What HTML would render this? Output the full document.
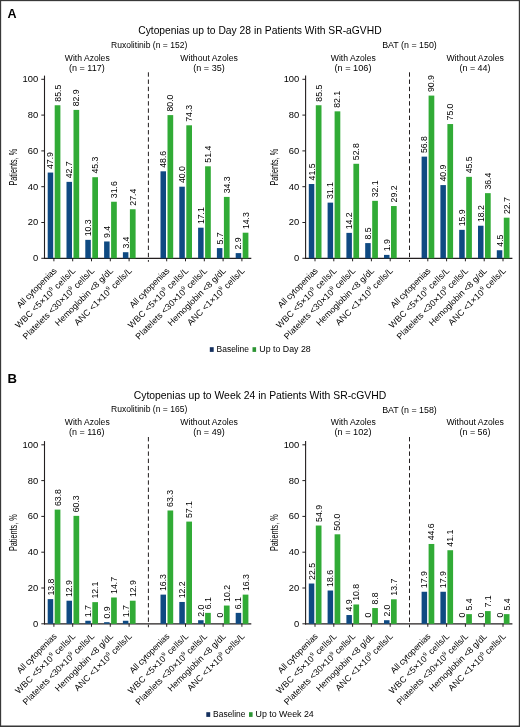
<!DOCTYPE html><html><head><meta charset="utf-8"><style>html,body{margin:0;padding:0;background:#fff;overflow:hidden;} body{position:relative;width:520px;height:727px;}svg{display:block;will-change:transform;filter:blur(0.3px);} #bd{filter:none;position:absolute;left:0;top:0;width:520px;height:727px;pointer-events:none;} text{font-family:"Liberation Sans", sans-serif;}</style></head><body>
<svg width="520" height="727" viewBox="0 0 520 727">
<rect x="0" y="0" width="520" height="727" fill="#fff"/>
<text x="7.60" y="18.30" font-size="12.5" font-weight="bold">A</text>
<text x="138.20" y="34.15" font-size="10.5" textLength="243.40" lengthAdjust="spacingAndGlyphs">Cytopenias up to Day 28 in Patients With SR-aGVHD</text>
<text x="111.00" y="47.70" font-size="8.5" textLength="76.30" lengthAdjust="spacingAndGlyphs">Ruxolitinib (n = 152)</text>
<text x="382.20" y="48.20" font-size="8.5" textLength="54.60" lengthAdjust="spacingAndGlyphs">BAT (n = 150)</text>
<text x="64.80" y="60.70" font-size="8.5" textLength="44.90" lengthAdjust="spacingAndGlyphs">With Azoles</text>
<text x="69.00" y="70.60" font-size="8.5" textLength="35.70" lengthAdjust="spacingAndGlyphs">(n = 117)</text>
<text x="180.30" y="60.90" font-size="8.5" textLength="57.60" lengthAdjust="spacingAndGlyphs">Without Azoles</text>
<text x="193.30" y="70.60" font-size="8.5" textLength="31.40" lengthAdjust="spacingAndGlyphs">(n = 35)</text>
<text x="330.80" y="60.70" font-size="8.5" textLength="45.00" lengthAdjust="spacingAndGlyphs">With Azoles</text>
<text x="334.50" y="70.60" font-size="8.5" textLength="37.00" lengthAdjust="spacingAndGlyphs">(n = 106)</text>
<text x="446.40" y="60.90" font-size="8.5" textLength="57.60" lengthAdjust="spacingAndGlyphs">Without Azoles</text>
<text x="459.50" y="70.60" font-size="8.5" textLength="31.00" lengthAdjust="spacingAndGlyphs">(n = 44)</text>
<line x1="44.5" y1="75.60" x2="44.5" y2="258.90" stroke="#231f20" stroke-width="1.1"/>
<line x1="41.30" y1="258.30" x2="44.5" y2="258.30" stroke="#231f20" stroke-width="1"/>
<text x="38.20" y="261.20" font-size="9.4" text-anchor="end">0</text>
<line x1="41.30" y1="222.50" x2="44.5" y2="222.50" stroke="#231f20" stroke-width="1"/>
<text x="38.20" y="225.40" font-size="9.4" text-anchor="end">20</text>
<line x1="41.30" y1="186.70" x2="44.5" y2="186.70" stroke="#231f20" stroke-width="1"/>
<text x="38.20" y="189.60" font-size="9.4" text-anchor="end">40</text>
<line x1="41.30" y1="150.90" x2="44.5" y2="150.90" stroke="#231f20" stroke-width="1"/>
<text x="38.20" y="153.80" font-size="9.4" text-anchor="end">60</text>
<line x1="41.30" y1="115.10" x2="44.5" y2="115.10" stroke="#231f20" stroke-width="1"/>
<text x="38.20" y="118.00" font-size="9.4" text-anchor="end">80</text>
<line x1="41.30" y1="79.30" x2="44.5" y2="79.30" stroke="#231f20" stroke-width="1"/>
<text x="38.20" y="82.20" font-size="9.4" text-anchor="end">100</text>
<line x1="44.00" y1="258.30" x2="251.30" y2="258.30" stroke="#231f20" stroke-width="1.15"/>
<text x="16.90" y="167.20" font-size="10" text-anchor="middle" textLength="36.60" lengthAdjust="spacingAndGlyphs" transform="rotate(-90 16.90 167.20)">Patients, %</text>
<line x1="148.40" y1="72.30" x2="148.40" y2="261.80" stroke="#231f20" stroke-width="1" stroke-dasharray="4.4 2.82"/>
<line x1="53.90" y1="258.30" x2="53.90" y2="261.30" stroke="#231f20" stroke-width="1"/>
<rect x="47.70" y="172.56" width="5.5" height="85.74" fill="#0f4a82"/>
<text x="53.50" y="168.96" font-size="8.7" transform="rotate(-90 53.50 168.96)">47.9</text>
<rect x="54.70" y="105.25" width="5.7" height="153.05" fill="#31ab36"/>
<text x="60.60" y="101.66" font-size="8.7" transform="rotate(-90 60.60 101.66)">85.5</text>
<text x="57.30" y="271.30" font-size="8.8" text-anchor="end" textLength="52.5" lengthAdjust="spacing" transform="rotate(-45 57.30 271.30)">All cytopenias</text>
<line x1="72.70" y1="258.30" x2="72.70" y2="261.30" stroke="#231f20" stroke-width="1"/>
<rect x="66.50" y="181.87" width="5.5" height="76.43" fill="#0f4a82"/>
<text x="72.30" y="178.27" font-size="8.7" transform="rotate(-90 72.30 178.27)">42.7</text>
<rect x="73.50" y="109.91" width="5.7" height="148.39" fill="#31ab36"/>
<text x="79.40" y="106.31" font-size="8.7" transform="rotate(-90 79.40 106.31)">82.9</text>
<text x="76.10" y="271.30" font-size="8.8" text-anchor="end" textLength="81.2" lengthAdjust="spacing" transform="rotate(-45 76.10 271.30)">WBC &lt;5×10<tspan font-size="5.8" dy="-3.6">9</tspan><tspan dy="3.6"> cells/L</tspan></text>
<line x1="91.50" y1="258.30" x2="91.50" y2="261.30" stroke="#231f20" stroke-width="1"/>
<rect x="85.30" y="239.86" width="5.5" height="18.44" fill="#0f4a82"/>
<text x="91.10" y="236.26" font-size="8.7" transform="rotate(-90 91.10 236.26)">10.3</text>
<rect x="92.30" y="177.21" width="5.7" height="81.09" fill="#31ab36"/>
<text x="98.20" y="173.61" font-size="8.7" transform="rotate(-90 98.20 173.61)">45.3</text>
<text x="94.90" y="271.30" font-size="8.8" text-anchor="end" textLength="97.0" lengthAdjust="spacing" transform="rotate(-45 94.90 271.30)">Platelets &lt;30×10<tspan font-size="5.8" dy="-3.6">9</tspan><tspan dy="3.6"> cells/L</tspan></text>
<line x1="110.30" y1="258.30" x2="110.30" y2="261.30" stroke="#231f20" stroke-width="1"/>
<rect x="104.10" y="241.47" width="5.5" height="16.83" fill="#0f4a82"/>
<text x="109.90" y="237.87" font-size="8.7" transform="rotate(-90 109.90 237.87)">9.4</text>
<rect x="111.10" y="201.74" width="5.7" height="56.56" fill="#31ab36"/>
<text x="117.00" y="198.14" font-size="8.7" transform="rotate(-90 117.00 198.14)">31.6</text>
<text x="113.70" y="271.30" font-size="8.8" text-anchor="end" textLength="78.0" lengthAdjust="spacing" transform="rotate(-45 113.70 271.30)">Hemoglobin &lt;8 g/dL</text>
<line x1="129.10" y1="258.30" x2="129.10" y2="261.30" stroke="#231f20" stroke-width="1"/>
<rect x="122.90" y="252.21" width="5.5" height="6.09" fill="#0f4a82"/>
<text x="128.70" y="248.61" font-size="8.7" transform="rotate(-90 128.70 248.61)">3.4</text>
<rect x="129.90" y="209.25" width="5.7" height="49.05" fill="#31ab36"/>
<text x="135.80" y="205.65" font-size="8.7" transform="rotate(-90 135.80 205.65)">27.4</text>
<text x="132.50" y="271.30" font-size="8.8" text-anchor="end" textLength="77.3" lengthAdjust="spacing" transform="rotate(-45 132.50 271.30)">ANC &lt;1×10<tspan font-size="5.8" dy="-3.6">9</tspan><tspan dy="3.6"> cells/L</tspan></text>
<line x1="166.70" y1="258.30" x2="166.70" y2="261.30" stroke="#231f20" stroke-width="1"/>
<rect x="160.50" y="171.31" width="5.5" height="86.99" fill="#0f4a82"/>
<text x="166.30" y="167.71" font-size="8.7" transform="rotate(-90 166.30 167.71)">48.6</text>
<rect x="167.50" y="115.10" width="5.7" height="143.20" fill="#31ab36"/>
<text x="173.40" y="111.50" font-size="8.7" transform="rotate(-90 173.40 111.50)">80.0</text>
<text x="170.10" y="271.30" font-size="8.8" text-anchor="end" textLength="52.5" lengthAdjust="spacing" transform="rotate(-45 170.10 271.30)">All cytopenias</text>
<line x1="185.50" y1="258.30" x2="185.50" y2="261.30" stroke="#231f20" stroke-width="1"/>
<rect x="179.30" y="186.70" width="5.5" height="71.60" fill="#0f4a82"/>
<text x="185.10" y="183.10" font-size="8.7" transform="rotate(-90 185.10 183.10)">40.0</text>
<rect x="186.30" y="125.30" width="5.7" height="133.00" fill="#31ab36"/>
<text x="192.20" y="121.70" font-size="8.7" transform="rotate(-90 192.20 121.70)">74.3</text>
<text x="188.90" y="271.30" font-size="8.8" text-anchor="end" textLength="81.2" lengthAdjust="spacing" transform="rotate(-45 188.90 271.30)">WBC &lt;5×10<tspan font-size="5.8" dy="-3.6">9</tspan><tspan dy="3.6"> cells/L</tspan></text>
<line x1="204.30" y1="258.30" x2="204.30" y2="261.30" stroke="#231f20" stroke-width="1"/>
<rect x="198.10" y="227.69" width="5.5" height="30.61" fill="#0f4a82"/>
<text x="203.90" y="224.09" font-size="8.7" transform="rotate(-90 203.90 224.09)">17.1</text>
<rect x="205.10" y="166.29" width="5.7" height="92.01" fill="#31ab36"/>
<text x="211.00" y="162.69" font-size="8.7" transform="rotate(-90 211.00 162.69)">51.4</text>
<text x="207.70" y="271.30" font-size="8.8" text-anchor="end" textLength="97.0" lengthAdjust="spacing" transform="rotate(-45 207.70 271.30)">Platelets &lt;30×10<tspan font-size="5.8" dy="-3.6">9</tspan><tspan dy="3.6"> cells/L</tspan></text>
<line x1="223.10" y1="258.30" x2="223.10" y2="261.30" stroke="#231f20" stroke-width="1"/>
<rect x="216.90" y="248.10" width="5.5" height="10.20" fill="#0f4a82"/>
<text x="222.70" y="244.50" font-size="8.7" transform="rotate(-90 222.70 244.50)">5.7</text>
<rect x="223.90" y="196.90" width="5.7" height="61.40" fill="#31ab36"/>
<text x="229.80" y="193.30" font-size="8.7" transform="rotate(-90 229.80 193.30)">34.3</text>
<text x="226.50" y="271.30" font-size="8.8" text-anchor="end" textLength="78.0" lengthAdjust="spacing" transform="rotate(-45 226.50 271.30)">Hemoglobin &lt;8 g/dL</text>
<line x1="241.90" y1="258.30" x2="241.90" y2="261.30" stroke="#231f20" stroke-width="1"/>
<rect x="235.70" y="253.11" width="5.5" height="5.19" fill="#0f4a82"/>
<text x="241.50" y="249.51" font-size="8.7" transform="rotate(-90 241.50 249.51)">2.9</text>
<rect x="242.70" y="232.70" width="5.7" height="25.60" fill="#31ab36"/>
<text x="248.60" y="229.10" font-size="8.7" transform="rotate(-90 248.60 229.10)">14.3</text>
<text x="245.30" y="271.30" font-size="8.8" text-anchor="end" textLength="77.3" lengthAdjust="spacing" transform="rotate(-45 245.30 271.30)">ANC &lt;1×10<tspan font-size="5.8" dy="-3.6">9</tspan><tspan dy="3.6"> cells/L</tspan></text>
<line x1="305.6" y1="75.60" x2="305.6" y2="258.90" stroke="#231f20" stroke-width="1.1"/>
<line x1="302.40" y1="258.30" x2="305.6" y2="258.30" stroke="#231f20" stroke-width="1"/>
<text x="299.30" y="261.20" font-size="9.4" text-anchor="end">0</text>
<line x1="302.40" y1="222.50" x2="305.6" y2="222.50" stroke="#231f20" stroke-width="1"/>
<text x="299.30" y="225.40" font-size="9.4" text-anchor="end">20</text>
<line x1="302.40" y1="186.70" x2="305.6" y2="186.70" stroke="#231f20" stroke-width="1"/>
<text x="299.30" y="189.60" font-size="9.4" text-anchor="end">40</text>
<line x1="302.40" y1="150.90" x2="305.6" y2="150.90" stroke="#231f20" stroke-width="1"/>
<text x="299.30" y="153.80" font-size="9.4" text-anchor="end">60</text>
<line x1="302.40" y1="115.10" x2="305.6" y2="115.10" stroke="#231f20" stroke-width="1"/>
<text x="299.30" y="118.00" font-size="9.4" text-anchor="end">80</text>
<line x1="302.40" y1="79.30" x2="305.6" y2="79.30" stroke="#231f20" stroke-width="1"/>
<text x="299.30" y="82.20" font-size="9.4" text-anchor="end">100</text>
<line x1="305.10" y1="258.30" x2="512.40" y2="258.30" stroke="#231f20" stroke-width="1.15"/>
<text x="278.00" y="167.20" font-size="10" text-anchor="middle" textLength="36.60" lengthAdjust="spacingAndGlyphs" transform="rotate(-90 278.00 167.20)">Patients, %</text>
<line x1="409.50" y1="72.30" x2="409.50" y2="261.80" stroke="#231f20" stroke-width="1" stroke-dasharray="4.4 2.82"/>
<line x1="315.00" y1="258.30" x2="315.00" y2="261.30" stroke="#231f20" stroke-width="1"/>
<rect x="308.80" y="184.02" width="5.5" height="74.28" fill="#0f4a82"/>
<text x="314.60" y="180.42" font-size="8.7" transform="rotate(-90 314.60 180.42)">41.5</text>
<rect x="315.80" y="105.25" width="5.7" height="153.05" fill="#31ab36"/>
<text x="321.70" y="101.66" font-size="8.7" transform="rotate(-90 321.70 101.66)">85.5</text>
<text x="318.40" y="271.30" font-size="8.8" text-anchor="end" textLength="52.5" lengthAdjust="spacing" transform="rotate(-45 318.40 271.30)">All cytopenias</text>
<line x1="333.80" y1="258.30" x2="333.80" y2="261.30" stroke="#231f20" stroke-width="1"/>
<rect x="327.60" y="202.63" width="5.5" height="55.67" fill="#0f4a82"/>
<text x="333.40" y="199.03" font-size="8.7" transform="rotate(-90 333.40 199.03)">31.1</text>
<rect x="334.60" y="111.34" width="5.7" height="146.96" fill="#31ab36"/>
<text x="340.50" y="107.74" font-size="8.7" transform="rotate(-90 340.50 107.74)">82.1</text>
<text x="337.20" y="271.30" font-size="8.8" text-anchor="end" textLength="81.2" lengthAdjust="spacing" transform="rotate(-45 337.20 271.30)">WBC &lt;5×10<tspan font-size="5.8" dy="-3.6">9</tspan><tspan dy="3.6"> cells/L</tspan></text>
<line x1="352.60" y1="258.30" x2="352.60" y2="261.30" stroke="#231f20" stroke-width="1"/>
<rect x="346.40" y="232.88" width="5.5" height="25.42" fill="#0f4a82"/>
<text x="352.20" y="229.28" font-size="8.7" transform="rotate(-90 352.20 229.28)">14.2</text>
<rect x="353.40" y="163.79" width="5.7" height="94.51" fill="#31ab36"/>
<text x="359.30" y="160.19" font-size="8.7" transform="rotate(-90 359.30 160.19)">52.8</text>
<text x="356.00" y="271.30" font-size="8.8" text-anchor="end" textLength="97.0" lengthAdjust="spacing" transform="rotate(-45 356.00 271.30)">Platelets &lt;30×10<tspan font-size="5.8" dy="-3.6">9</tspan><tspan dy="3.6"> cells/L</tspan></text>
<line x1="371.40" y1="258.30" x2="371.40" y2="261.30" stroke="#231f20" stroke-width="1"/>
<rect x="365.20" y="243.09" width="5.5" height="15.21" fill="#0f4a82"/>
<text x="371.00" y="239.49" font-size="8.7" transform="rotate(-90 371.00 239.49)">8.5</text>
<rect x="372.20" y="200.84" width="5.7" height="57.46" fill="#31ab36"/>
<text x="378.10" y="197.24" font-size="8.7" transform="rotate(-90 378.10 197.24)">32.1</text>
<text x="374.80" y="271.30" font-size="8.8" text-anchor="end" textLength="78.0" lengthAdjust="spacing" transform="rotate(-45 374.80 271.30)">Hemoglobin &lt;8 g/dL</text>
<line x1="390.20" y1="258.30" x2="390.20" y2="261.30" stroke="#231f20" stroke-width="1"/>
<rect x="384.00" y="254.90" width="5.5" height="3.40" fill="#0f4a82"/>
<text x="389.80" y="251.30" font-size="8.7" transform="rotate(-90 389.80 251.30)">1.9</text>
<rect x="391.00" y="206.03" width="5.7" height="52.27" fill="#31ab36"/>
<text x="396.90" y="202.43" font-size="8.7" transform="rotate(-90 396.90 202.43)">29.2</text>
<text x="393.60" y="271.30" font-size="8.8" text-anchor="end" textLength="77.3" lengthAdjust="spacing" transform="rotate(-45 393.60 271.30)">ANC &lt;1×10<tspan font-size="5.8" dy="-3.6">9</tspan><tspan dy="3.6"> cells/L</tspan></text>
<line x1="427.80" y1="258.30" x2="427.80" y2="261.30" stroke="#231f20" stroke-width="1"/>
<rect x="421.60" y="156.63" width="5.5" height="101.67" fill="#0f4a82"/>
<text x="427.40" y="153.03" font-size="8.7" transform="rotate(-90 427.40 153.03)">56.8</text>
<rect x="428.60" y="95.59" width="5.7" height="162.71" fill="#31ab36"/>
<text x="434.50" y="91.99" font-size="8.7" transform="rotate(-90 434.50 91.99)">90.9</text>
<text x="431.20" y="271.30" font-size="8.8" text-anchor="end" textLength="52.5" lengthAdjust="spacing" transform="rotate(-45 431.20 271.30)">All cytopenias</text>
<line x1="446.60" y1="258.30" x2="446.60" y2="261.30" stroke="#231f20" stroke-width="1"/>
<rect x="440.40" y="185.09" width="5.5" height="73.21" fill="#0f4a82"/>
<text x="446.20" y="181.49" font-size="8.7" transform="rotate(-90 446.20 181.49)">40.9</text>
<rect x="447.40" y="124.05" width="5.7" height="134.25" fill="#31ab36"/>
<text x="453.30" y="120.45" font-size="8.7" transform="rotate(-90 453.30 120.45)">75.0</text>
<text x="450.00" y="271.30" font-size="8.8" text-anchor="end" textLength="81.2" lengthAdjust="spacing" transform="rotate(-45 450.00 271.30)">WBC &lt;5×10<tspan font-size="5.8" dy="-3.6">9</tspan><tspan dy="3.6"> cells/L</tspan></text>
<line x1="465.40" y1="258.30" x2="465.40" y2="261.30" stroke="#231f20" stroke-width="1"/>
<rect x="459.20" y="229.84" width="5.5" height="28.46" fill="#0f4a82"/>
<text x="465.00" y="226.24" font-size="8.7" transform="rotate(-90 465.00 226.24)">15.9</text>
<rect x="466.20" y="176.86" width="5.7" height="81.45" fill="#31ab36"/>
<text x="472.10" y="173.26" font-size="8.7" transform="rotate(-90 472.10 173.26)">45.5</text>
<text x="468.80" y="271.30" font-size="8.8" text-anchor="end" textLength="97.0" lengthAdjust="spacing" transform="rotate(-45 468.80 271.30)">Platelets &lt;30×10<tspan font-size="5.8" dy="-3.6">9</tspan><tspan dy="3.6"> cells/L</tspan></text>
<line x1="484.20" y1="258.30" x2="484.20" y2="261.30" stroke="#231f20" stroke-width="1"/>
<rect x="478.00" y="225.72" width="5.5" height="32.58" fill="#0f4a82"/>
<text x="483.80" y="222.12" font-size="8.7" transform="rotate(-90 483.80 222.12)">18.2</text>
<rect x="485.00" y="193.14" width="5.7" height="65.16" fill="#31ab36"/>
<text x="490.90" y="189.54" font-size="8.7" transform="rotate(-90 490.90 189.54)">36.4</text>
<text x="487.60" y="271.30" font-size="8.8" text-anchor="end" textLength="78.0" lengthAdjust="spacing" transform="rotate(-45 487.60 271.30)">Hemoglobin &lt;8 g/dL</text>
<line x1="503.00" y1="258.30" x2="503.00" y2="261.30" stroke="#231f20" stroke-width="1"/>
<rect x="496.80" y="250.25" width="5.5" height="8.05" fill="#0f4a82"/>
<text x="502.60" y="246.65" font-size="8.7" transform="rotate(-90 502.60 246.65)">4.5</text>
<rect x="503.80" y="217.67" width="5.7" height="40.63" fill="#31ab36"/>
<text x="509.70" y="214.07" font-size="8.7" transform="rotate(-90 509.70 214.07)">22.7</text>
<text x="506.40" y="271.30" font-size="8.8" text-anchor="end" textLength="77.3" lengthAdjust="spacing" transform="rotate(-45 506.40 271.30)">ANC &lt;1×10<tspan font-size="5.8" dy="-3.6">9</tspan><tspan dy="3.6"> cells/L</tspan></text>
<rect x="209.80" y="347.20" width="3.9" height="4.7" fill="#15305e"/>
<text x="216.60" y="352.40" font-size="8.5" textLength="32.40" lengthAdjust="spacingAndGlyphs">Baseline</text>
<rect x="252.50" y="347.20" width="3.6" height="4.7" fill="#2c9433"/>
<text x="259.30" y="352.40" font-size="8.5" textLength="51.40" lengthAdjust="spacingAndGlyphs">Up to Day 28</text>
<text x="7.60" y="382.70" font-size="13.1" font-weight="bold">B</text>
<text x="133.70" y="399.15" font-size="10.5" textLength="252.60" lengthAdjust="spacingAndGlyphs">Cytopenias up to Week 24 in Patients With SR-cGVHD</text>
<text x="111.00" y="412.00" font-size="8.5" textLength="76.30" lengthAdjust="spacingAndGlyphs">Ruxolitinib (n = 165)</text>
<text x="382.20" y="412.50" font-size="8.5" textLength="54.60" lengthAdjust="spacingAndGlyphs">BAT (n = 158)</text>
<text x="64.80" y="425.00" font-size="8.5" textLength="44.90" lengthAdjust="spacingAndGlyphs">With Azoles</text>
<text x="69.00" y="434.90" font-size="8.5" textLength="35.50" lengthAdjust="spacingAndGlyphs">(n = 116)</text>
<text x="180.30" y="425.20" font-size="8.5" textLength="57.60" lengthAdjust="spacingAndGlyphs">Without Azoles</text>
<text x="193.30" y="434.90" font-size="8.5" textLength="31.40" lengthAdjust="spacingAndGlyphs">(n = 49)</text>
<text x="330.80" y="425.00" font-size="8.5" textLength="45.00" lengthAdjust="spacingAndGlyphs">With Azoles</text>
<text x="334.50" y="434.90" font-size="8.5" textLength="37.00" lengthAdjust="spacingAndGlyphs">(n = 102)</text>
<text x="446.40" y="425.20" font-size="8.5" textLength="57.60" lengthAdjust="spacingAndGlyphs">Without Azoles</text>
<text x="459.50" y="434.90" font-size="8.5" textLength="31.00" lengthAdjust="spacingAndGlyphs">(n = 56)</text>
<line x1="44.5" y1="441.10" x2="44.5" y2="624.40" stroke="#231f20" stroke-width="1.1"/>
<line x1="41.30" y1="623.80" x2="44.5" y2="623.80" stroke="#231f20" stroke-width="1"/>
<text x="38.20" y="626.70" font-size="9.4" text-anchor="end">0</text>
<line x1="41.30" y1="588.00" x2="44.5" y2="588.00" stroke="#231f20" stroke-width="1"/>
<text x="38.20" y="590.90" font-size="9.4" text-anchor="end">20</text>
<line x1="41.30" y1="552.20" x2="44.5" y2="552.20" stroke="#231f20" stroke-width="1"/>
<text x="38.20" y="555.10" font-size="9.4" text-anchor="end">40</text>
<line x1="41.30" y1="516.40" x2="44.5" y2="516.40" stroke="#231f20" stroke-width="1"/>
<text x="38.20" y="519.30" font-size="9.4" text-anchor="end">60</text>
<line x1="41.30" y1="480.60" x2="44.5" y2="480.60" stroke="#231f20" stroke-width="1"/>
<text x="38.20" y="483.50" font-size="9.4" text-anchor="end">80</text>
<line x1="41.30" y1="444.80" x2="44.5" y2="444.80" stroke="#231f20" stroke-width="1"/>
<text x="38.20" y="447.70" font-size="9.4" text-anchor="end">100</text>
<line x1="44.00" y1="623.80" x2="251.30" y2="623.80" stroke="#231f20" stroke-width="1.15"/>
<text x="16.90" y="532.70" font-size="10" text-anchor="middle" textLength="36.60" lengthAdjust="spacingAndGlyphs" transform="rotate(-90 16.90 532.70)">Patients, %</text>
<line x1="148.40" y1="437.00" x2="148.40" y2="627.30" stroke="#231f20" stroke-width="1" stroke-dasharray="4.4 2.82"/>
<line x1="53.90" y1="623.80" x2="53.90" y2="626.80" stroke="#231f20" stroke-width="1"/>
<rect x="47.70" y="599.10" width="5.5" height="24.70" fill="#0f4a82"/>
<text x="53.50" y="595.50" font-size="8.7" transform="rotate(-90 53.50 595.50)">13.8</text>
<rect x="54.70" y="509.60" width="5.7" height="114.20" fill="#31ab36"/>
<text x="60.60" y="506.00" font-size="8.7" transform="rotate(-90 60.60 506.00)">63.8</text>
<text x="57.30" y="636.80" font-size="8.8" text-anchor="end" textLength="52.5" lengthAdjust="spacing" transform="rotate(-45 57.30 636.80)">All cytopenias</text>
<line x1="72.70" y1="623.80" x2="72.70" y2="626.80" stroke="#231f20" stroke-width="1"/>
<rect x="66.50" y="600.71" width="5.5" height="23.09" fill="#0f4a82"/>
<text x="72.30" y="597.11" font-size="8.7" transform="rotate(-90 72.30 597.11)">12.9</text>
<rect x="73.50" y="515.86" width="5.7" height="107.94" fill="#31ab36"/>
<text x="79.40" y="512.26" font-size="8.7" transform="rotate(-90 79.40 512.26)">60.3</text>
<text x="76.10" y="636.80" font-size="8.8" text-anchor="end" textLength="81.2" lengthAdjust="spacing" transform="rotate(-45 76.10 636.80)">WBC &lt;5×10<tspan font-size="5.8" dy="-3.6">9</tspan><tspan dy="3.6"> cells/L</tspan></text>
<line x1="91.50" y1="623.80" x2="91.50" y2="626.80" stroke="#231f20" stroke-width="1"/>
<rect x="85.30" y="620.76" width="5.5" height="3.04" fill="#0f4a82"/>
<text x="91.10" y="617.16" font-size="8.7" transform="rotate(-90 91.10 617.16)">1.7</text>
<rect x="92.30" y="602.14" width="5.7" height="21.66" fill="#31ab36"/>
<text x="98.20" y="598.54" font-size="8.7" transform="rotate(-90 98.20 598.54)">12.1</text>
<text x="94.90" y="636.80" font-size="8.8" text-anchor="end" textLength="97.0" lengthAdjust="spacing" transform="rotate(-45 94.90 636.80)">Platelets &lt;30×10<tspan font-size="5.8" dy="-3.6">9</tspan><tspan dy="3.6"> cells/L</tspan></text>
<line x1="110.30" y1="623.80" x2="110.30" y2="626.80" stroke="#231f20" stroke-width="1"/>
<rect x="104.10" y="622.19" width="5.5" height="1.61" fill="#0f4a82"/>
<text x="109.90" y="618.59" font-size="8.7" transform="rotate(-90 109.90 618.59)">0.9</text>
<rect x="111.10" y="597.49" width="5.7" height="26.31" fill="#31ab36"/>
<text x="117.00" y="593.89" font-size="8.7" transform="rotate(-90 117.00 593.89)">14.7</text>
<text x="113.70" y="636.80" font-size="8.8" text-anchor="end" textLength="78.0" lengthAdjust="spacing" transform="rotate(-45 113.70 636.80)">Hemoglobin &lt;8 g/dL</text>
<line x1="129.10" y1="623.80" x2="129.10" y2="626.80" stroke="#231f20" stroke-width="1"/>
<rect x="122.90" y="620.76" width="5.5" height="3.04" fill="#0f4a82"/>
<text x="128.70" y="617.16" font-size="8.7" transform="rotate(-90 128.70 617.16)">1.7</text>
<rect x="129.90" y="600.71" width="5.7" height="23.09" fill="#31ab36"/>
<text x="135.80" y="597.11" font-size="8.7" transform="rotate(-90 135.80 597.11)">12.9</text>
<text x="132.50" y="636.80" font-size="8.8" text-anchor="end" textLength="77.3" lengthAdjust="spacing" transform="rotate(-45 132.50 636.80)">ANC &lt;1×10<tspan font-size="5.8" dy="-3.6">9</tspan><tspan dy="3.6"> cells/L</tspan></text>
<line x1="166.70" y1="623.80" x2="166.70" y2="626.80" stroke="#231f20" stroke-width="1"/>
<rect x="160.50" y="594.62" width="5.5" height="29.18" fill="#0f4a82"/>
<text x="166.30" y="591.02" font-size="8.7" transform="rotate(-90 166.30 591.02)">16.3</text>
<rect x="167.50" y="510.49" width="5.7" height="113.31" fill="#31ab36"/>
<text x="173.40" y="506.89" font-size="8.7" transform="rotate(-90 173.40 506.89)">63.3</text>
<text x="170.10" y="636.80" font-size="8.8" text-anchor="end" textLength="52.5" lengthAdjust="spacing" transform="rotate(-45 170.10 636.80)">All cytopenias</text>
<line x1="185.50" y1="623.80" x2="185.50" y2="626.80" stroke="#231f20" stroke-width="1"/>
<rect x="179.30" y="601.96" width="5.5" height="21.84" fill="#0f4a82"/>
<text x="185.10" y="598.36" font-size="8.7" transform="rotate(-90 185.10 598.36)">12.2</text>
<rect x="186.30" y="521.59" width="5.7" height="102.21" fill="#31ab36"/>
<text x="192.20" y="517.99" font-size="8.7" transform="rotate(-90 192.20 517.99)">57.1</text>
<text x="188.90" y="636.80" font-size="8.8" text-anchor="end" textLength="81.2" lengthAdjust="spacing" transform="rotate(-45 188.90 636.80)">WBC &lt;5×10<tspan font-size="5.8" dy="-3.6">9</tspan><tspan dy="3.6"> cells/L</tspan></text>
<line x1="204.30" y1="623.80" x2="204.30" y2="626.80" stroke="#231f20" stroke-width="1"/>
<rect x="198.10" y="620.22" width="5.5" height="3.58" fill="#0f4a82"/>
<text x="203.90" y="616.62" font-size="8.7" transform="rotate(-90 203.90 616.62)">2.0</text>
<rect x="205.10" y="612.88" width="5.7" height="10.92" fill="#31ab36"/>
<text x="211.00" y="609.28" font-size="8.7" transform="rotate(-90 211.00 609.28)">6.1</text>
<text x="207.70" y="636.80" font-size="8.8" text-anchor="end" textLength="97.0" lengthAdjust="spacing" transform="rotate(-45 207.70 636.80)">Platelets &lt;30×10<tspan font-size="5.8" dy="-3.6">9</tspan><tspan dy="3.6"> cells/L</tspan></text>
<line x1="223.10" y1="623.80" x2="223.10" y2="626.80" stroke="#231f20" stroke-width="1"/>
<text x="222.70" y="617.60" font-size="8.7" transform="rotate(-90 222.70 617.60)">0</text>
<rect x="223.90" y="605.54" width="5.7" height="18.26" fill="#31ab36"/>
<text x="229.80" y="601.94" font-size="8.7" transform="rotate(-90 229.80 601.94)">10.2</text>
<text x="226.50" y="636.80" font-size="8.8" text-anchor="end" textLength="78.0" lengthAdjust="spacing" transform="rotate(-45 226.50 636.80)">Hemoglobin &lt;8 g/dL</text>
<line x1="241.90" y1="623.80" x2="241.90" y2="626.80" stroke="#231f20" stroke-width="1"/>
<rect x="235.70" y="612.88" width="5.5" height="10.92" fill="#0f4a82"/>
<text x="241.50" y="609.28" font-size="8.7" transform="rotate(-90 241.50 609.28)">6.1</text>
<rect x="242.70" y="594.62" width="5.7" height="29.18" fill="#31ab36"/>
<text x="248.60" y="591.02" font-size="8.7" transform="rotate(-90 248.60 591.02)">16.3</text>
<text x="245.30" y="636.80" font-size="8.8" text-anchor="end" textLength="77.3" lengthAdjust="spacing" transform="rotate(-45 245.30 636.80)">ANC &lt;1×10<tspan font-size="5.8" dy="-3.6">9</tspan><tspan dy="3.6"> cells/L</tspan></text>
<line x1="305.6" y1="441.10" x2="305.6" y2="624.40" stroke="#231f20" stroke-width="1.1"/>
<line x1="302.40" y1="623.80" x2="305.6" y2="623.80" stroke="#231f20" stroke-width="1"/>
<text x="299.30" y="626.70" font-size="9.4" text-anchor="end">0</text>
<line x1="302.40" y1="588.00" x2="305.6" y2="588.00" stroke="#231f20" stroke-width="1"/>
<text x="299.30" y="590.90" font-size="9.4" text-anchor="end">20</text>
<line x1="302.40" y1="552.20" x2="305.6" y2="552.20" stroke="#231f20" stroke-width="1"/>
<text x="299.30" y="555.10" font-size="9.4" text-anchor="end">40</text>
<line x1="302.40" y1="516.40" x2="305.6" y2="516.40" stroke="#231f20" stroke-width="1"/>
<text x="299.30" y="519.30" font-size="9.4" text-anchor="end">60</text>
<line x1="302.40" y1="480.60" x2="305.6" y2="480.60" stroke="#231f20" stroke-width="1"/>
<text x="299.30" y="483.50" font-size="9.4" text-anchor="end">80</text>
<line x1="302.40" y1="444.80" x2="305.6" y2="444.80" stroke="#231f20" stroke-width="1"/>
<text x="299.30" y="447.70" font-size="9.4" text-anchor="end">100</text>
<line x1="305.10" y1="623.80" x2="512.40" y2="623.80" stroke="#231f20" stroke-width="1.15"/>
<text x="278.00" y="532.70" font-size="10" text-anchor="middle" textLength="36.60" lengthAdjust="spacingAndGlyphs" transform="rotate(-90 278.00 532.70)">Patients, %</text>
<line x1="409.50" y1="437.00" x2="409.50" y2="627.30" stroke="#231f20" stroke-width="1" stroke-dasharray="4.4 2.82"/>
<line x1="315.00" y1="623.80" x2="315.00" y2="626.80" stroke="#231f20" stroke-width="1"/>
<rect x="308.80" y="583.52" width="5.5" height="40.27" fill="#0f4a82"/>
<text x="314.60" y="579.92" font-size="8.7" transform="rotate(-90 314.60 579.92)">22.5</text>
<rect x="315.80" y="525.53" width="5.7" height="98.27" fill="#31ab36"/>
<text x="321.70" y="521.93" font-size="8.7" transform="rotate(-90 321.70 521.93)">54.9</text>
<text x="318.40" y="636.80" font-size="8.8" text-anchor="end" textLength="52.5" lengthAdjust="spacing" transform="rotate(-45 318.40 636.80)">All cytopenias</text>
<line x1="333.80" y1="623.80" x2="333.80" y2="626.80" stroke="#231f20" stroke-width="1"/>
<rect x="327.60" y="590.51" width="5.5" height="33.29" fill="#0f4a82"/>
<text x="333.40" y="586.91" font-size="8.7" transform="rotate(-90 333.40 586.91)">18.6</text>
<rect x="334.60" y="534.30" width="5.7" height="89.50" fill="#31ab36"/>
<text x="340.50" y="530.70" font-size="8.7" transform="rotate(-90 340.50 530.70)">50.0</text>
<text x="337.20" y="636.80" font-size="8.8" text-anchor="end" textLength="81.2" lengthAdjust="spacing" transform="rotate(-45 337.20 636.80)">WBC &lt;5×10<tspan font-size="5.8" dy="-3.6">9</tspan><tspan dy="3.6"> cells/L</tspan></text>
<line x1="352.60" y1="623.80" x2="352.60" y2="626.80" stroke="#231f20" stroke-width="1"/>
<rect x="346.40" y="615.03" width="5.5" height="8.77" fill="#0f4a82"/>
<text x="352.20" y="611.43" font-size="8.7" transform="rotate(-90 352.20 611.43)">4.9</text>
<rect x="353.40" y="604.47" width="5.7" height="19.33" fill="#31ab36"/>
<text x="359.30" y="600.87" font-size="8.7" transform="rotate(-90 359.30 600.87)">10.8</text>
<text x="356.00" y="636.80" font-size="8.8" text-anchor="end" textLength="97.0" lengthAdjust="spacing" transform="rotate(-45 356.00 636.80)">Platelets &lt;30×10<tspan font-size="5.8" dy="-3.6">9</tspan><tspan dy="3.6"> cells/L</tspan></text>
<line x1="371.40" y1="623.80" x2="371.40" y2="626.80" stroke="#231f20" stroke-width="1"/>
<text x="371.00" y="617.60" font-size="8.7" transform="rotate(-90 371.00 617.60)">0</text>
<rect x="372.20" y="608.05" width="5.7" height="15.75" fill="#31ab36"/>
<text x="378.10" y="604.45" font-size="8.7" transform="rotate(-90 378.10 604.45)">8.8</text>
<text x="374.80" y="636.80" font-size="8.8" text-anchor="end" textLength="78.0" lengthAdjust="spacing" transform="rotate(-45 374.80 636.80)">Hemoglobin &lt;8 g/dL</text>
<line x1="390.20" y1="623.80" x2="390.20" y2="626.80" stroke="#231f20" stroke-width="1"/>
<rect x="384.00" y="620.22" width="5.5" height="3.58" fill="#0f4a82"/>
<text x="389.80" y="616.62" font-size="8.7" transform="rotate(-90 389.80 616.62)">2.0</text>
<rect x="391.00" y="599.28" width="5.7" height="24.52" fill="#31ab36"/>
<text x="396.90" y="595.68" font-size="8.7" transform="rotate(-90 396.90 595.68)">13.7</text>
<text x="393.60" y="636.80" font-size="8.8" text-anchor="end" textLength="77.3" lengthAdjust="spacing" transform="rotate(-45 393.60 636.80)">ANC &lt;1×10<tspan font-size="5.8" dy="-3.6">9</tspan><tspan dy="3.6"> cells/L</tspan></text>
<line x1="427.80" y1="623.80" x2="427.80" y2="626.80" stroke="#231f20" stroke-width="1"/>
<rect x="421.60" y="591.76" width="5.5" height="32.04" fill="#0f4a82"/>
<text x="427.40" y="588.16" font-size="8.7" transform="rotate(-90 427.40 588.16)">17.9</text>
<rect x="428.60" y="543.97" width="5.7" height="79.83" fill="#31ab36"/>
<text x="434.50" y="540.37" font-size="8.7" transform="rotate(-90 434.50 540.37)">44.6</text>
<text x="431.20" y="636.80" font-size="8.8" text-anchor="end" textLength="52.5" lengthAdjust="spacing" transform="rotate(-45 431.20 636.80)">All cytopenias</text>
<line x1="446.60" y1="623.80" x2="446.60" y2="626.80" stroke="#231f20" stroke-width="1"/>
<rect x="440.40" y="591.76" width="5.5" height="32.04" fill="#0f4a82"/>
<text x="446.20" y="588.16" font-size="8.7" transform="rotate(-90 446.20 588.16)">17.9</text>
<rect x="447.40" y="550.23" width="5.7" height="73.57" fill="#31ab36"/>
<text x="453.30" y="546.63" font-size="8.7" transform="rotate(-90 453.30 546.63)">41.1</text>
<text x="450.00" y="636.80" font-size="8.8" text-anchor="end" textLength="81.2" lengthAdjust="spacing" transform="rotate(-45 450.00 636.80)">WBC &lt;5×10<tspan font-size="5.8" dy="-3.6">9</tspan><tspan dy="3.6"> cells/L</tspan></text>
<line x1="465.40" y1="623.80" x2="465.40" y2="626.80" stroke="#231f20" stroke-width="1"/>
<text x="465.00" y="617.60" font-size="8.7" transform="rotate(-90 465.00 617.60)">0</text>
<rect x="466.20" y="614.13" width="5.7" height="9.67" fill="#31ab36"/>
<text x="472.10" y="610.53" font-size="8.7" transform="rotate(-90 472.10 610.53)">5.4</text>
<text x="468.80" y="636.80" font-size="8.8" text-anchor="end" textLength="97.0" lengthAdjust="spacing" transform="rotate(-45 468.80 636.80)">Platelets &lt;30×10<tspan font-size="5.8" dy="-3.6">9</tspan><tspan dy="3.6"> cells/L</tspan></text>
<line x1="484.20" y1="623.80" x2="484.20" y2="626.80" stroke="#231f20" stroke-width="1"/>
<text x="483.80" y="617.60" font-size="8.7" transform="rotate(-90 483.80 617.60)">0</text>
<rect x="485.00" y="611.09" width="5.7" height="12.71" fill="#31ab36"/>
<text x="490.90" y="607.49" font-size="8.7" transform="rotate(-90 490.90 607.49)">7.1</text>
<text x="487.60" y="636.80" font-size="8.8" text-anchor="end" textLength="78.0" lengthAdjust="spacing" transform="rotate(-45 487.60 636.80)">Hemoglobin &lt;8 g/dL</text>
<line x1="503.00" y1="623.80" x2="503.00" y2="626.80" stroke="#231f20" stroke-width="1"/>
<text x="502.60" y="617.60" font-size="8.7" transform="rotate(-90 502.60 617.60)">0</text>
<rect x="503.80" y="614.13" width="5.7" height="9.67" fill="#31ab36"/>
<text x="509.70" y="610.53" font-size="8.7" transform="rotate(-90 509.70 610.53)">5.4</text>
<text x="506.40" y="636.80" font-size="8.8" text-anchor="end" textLength="77.3" lengthAdjust="spacing" transform="rotate(-45 506.40 636.80)">ANC &lt;1×10<tspan font-size="5.8" dy="-3.6">9</tspan><tspan dy="3.6"> cells/L</tspan></text>
<rect x="206.30" y="712.20" width="3.9" height="4.7" fill="#15305e"/>
<text x="213.10" y="717.40" font-size="8.5" textLength="32.40" lengthAdjust="spacingAndGlyphs">Baseline</text>
<rect x="249.00" y="712.20" width="3.6" height="4.7" fill="#2c9433"/>
<text x="255.50" y="717.40" font-size="8.5" textLength="58.30" lengthAdjust="spacingAndGlyphs">Up to Week 24</text>
</svg>
<svg id="bd" width="520" height="727" viewBox="0 0 520 727">
<rect x="0" y="0" width="1.15" height="727" fill="#383838"/>
<rect x="0" y="0" width="520" height="1.15" fill="#383838"/>
<rect x="518.8" y="0" width="1.2" height="727" fill="#383838"/>
<rect x="0" y="725.5" width="520" height="1.5" fill="#383838"/>
</svg></body></html>
